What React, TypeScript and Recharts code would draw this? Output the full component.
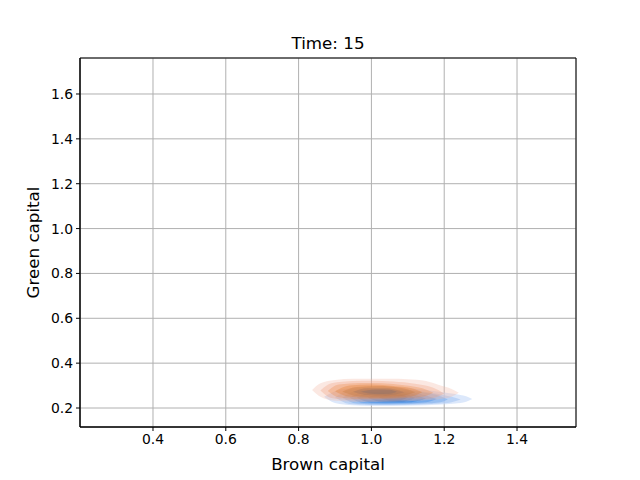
import React from 'react';
import { ComposedChart, Area, XAxis, YAxis, CartesianGrid, ReferenceArea } from 'recharts';

// Tick values
const xTicks = [0.4, 0.6, 0.8, 1.0, 1.2, 1.4];
const yTicks = [0.2, 0.4, 0.6, 0.8, 1.0, 1.2, 1.4, 1.6];
const xDomain = [0.1995, 1.562];
const yDomain = [0.1153, 1.7605];

// KDE contour levels: [brown capital, green low, green high]
const blueContours: number[][][] = [
  [[0.87, 0.25, 0.25], [0.9, 0.222, 0.275], [0.95, 0.212, 0.29], [1.0, 0.209, 0.296], [1.06, 0.209, 0.294], [1.12, 0.211, 0.286], [1.18, 0.214, 0.274], [1.23, 0.22, 0.262], [1.26, 0.228, 0.252], [1.277, 0.24, 0.24]],
  [[0.9, 0.248, 0.248], [0.94, 0.218, 0.28], [1.0, 0.213, 0.29], [1.06, 0.213, 0.288], [1.12, 0.215, 0.278], [1.18, 0.219, 0.264], [1.22, 0.226, 0.25], [1.245, 0.238, 0.238]],
  [[0.92, 0.246, 0.246], [0.96, 0.22, 0.278], [1.02, 0.216, 0.285], [1.08, 0.217, 0.282], [1.14, 0.22, 0.27], [1.19, 0.226, 0.252], [1.21, 0.238, 0.238]],
  [[0.94, 0.246, 0.246], [0.98, 0.222, 0.274], [1.04, 0.219, 0.28], [1.1, 0.221, 0.274], [1.15, 0.226, 0.256], [1.18, 0.24, 0.24]],
  [[0.96, 0.246, 0.246], [1.0, 0.225, 0.27], [1.06, 0.223, 0.274], [1.11, 0.226, 0.264], [1.15, 0.242, 0.242]],
  [[0.99, 0.246, 0.246], [1.03, 0.228, 0.266], [1.08, 0.228, 0.266], [1.12, 0.245, 0.245]],
  [[1.02, 0.248, 0.248], [1.05, 0.234, 0.26], [1.08, 0.235, 0.26], [1.1, 0.248, 0.248]],
];

const orangeContours: number[][][] = [
  [[0.837, 0.28, 0.28], [0.86, 0.25, 0.31], [0.9, 0.232, 0.325], [0.95, 0.228, 0.33], [1.0, 0.227, 0.33], [1.05, 0.228, 0.33], [1.1, 0.23, 0.328], [1.15, 0.235, 0.32], [1.19, 0.24, 0.3], [1.22, 0.25, 0.285], [1.24, 0.268, 0.268]],
  [[0.86, 0.278, 0.278], [0.89, 0.245, 0.31], [0.95, 0.235, 0.32], [1.0, 0.233, 0.322], [1.06, 0.234, 0.318], [1.12, 0.238, 0.308], [1.17, 0.245, 0.29], [1.2, 0.265, 0.265]],
  [[0.88, 0.276, 0.276], [0.91, 0.248, 0.305], [0.97, 0.24, 0.312], [1.03, 0.24, 0.31], [1.09, 0.243, 0.302], [1.14, 0.25, 0.288], [1.17, 0.268, 0.268]],
  [[0.9, 0.275, 0.275], [0.94, 0.25, 0.3], [1.0, 0.245, 0.305], [1.06, 0.246, 0.298], [1.11, 0.252, 0.288], [1.14, 0.27, 0.27]],
  [[0.92, 0.274, 0.274], [0.96, 0.254, 0.294], [1.02, 0.25, 0.298], [1.08, 0.253, 0.29], [1.12, 0.27, 0.27]],
  [[0.95, 0.273, 0.273], [0.99, 0.258, 0.288], [1.04, 0.256, 0.288], [1.09, 0.27, 0.27]],
  [[0.97, 0.272, 0.272], [1.01, 0.262, 0.283], [1.05, 0.263, 0.281], [1.07, 0.272, 0.272]],
];

const blueColors = ['#c4d9f8', '#a6c7f4', '#84b2ef', '#5f9cea', '#3f88e0', '#2a76d2', '#1f64b8'];
const orangeColors = ['#f2b8a4', '#ef9f7c', '#ec8c4c', '#e47c2c', '#c8783c', '#9a7060', '#7a6a70'];

const toData = (c: number[][]) => c.map(([x, lo, hi]) => ({ x, r: [lo, hi] }));

const font = 'DejaVu Sans, sans-serif';

export default function App() {
  return (
    <div style={{ position: 'absolute', left: 0, top: 0, width: 640, height: 480, background: '#fff', fontFamily: font }}>
      <div style={{ position: 'absolute', left: 80, width: 496, top: 33, textAlign: 'center', fontSize: 16.7, lineHeight: '20px', color: '#000' }}>
        Time: 15
      </div>
      <ComposedChart width={640} height={480} margin={{ top: 58, right: 64, bottom: 0, left: 0 }}>
        <CartesianGrid stroke="#b0b0b0" strokeWidth={1} />
        <XAxis
          dataKey="x"
          type="number"
          domain={xDomain}
          ticks={xTicks}
          allowDataOverflow
          height={53}
          tickSize={4}
          tickMargin={3}
          stroke="#000"
          tick={{ fill: '#000', fontSize: 13.9, fontFamily: font }}
          tickFormatter={(v: number) => v.toFixed(1)}
          label={{ value: 'Brown capital', position: 'insideBottom', offset: 10, fill: '#000', fontSize: 16.7, fontFamily: font }}
        />
        <YAxis
          type="number"
          domain={yDomain}
          ticks={yTicks}
          allowDataOverflow
          width={80}
          tickSize={4}
          tickMargin={3}
          stroke="#000"
          tick={{ fill: '#000', fontSize: 13.9, fontFamily: font }}
          tickFormatter={(v: number) => v.toFixed(1)}
          label={{ value: 'Green capital', angle: -90, position: 'insideLeft', offset: 33, fill: '#000', fontSize: 16.7, fontFamily: font, style: { textAnchor: 'middle' } }}
        />
        {blueContours.map((c, i) => (
          <Area
            key={'b' + i}
            data={toData(c)}
            dataKey="r"
            type="monotone"
            stroke="none"
            fill={blueColors[i]}
            fillOpacity={0.6}
            isAnimationActive={false}
            dot={false}
            activeDot={false}
          />
        ))}
        {orangeContours.map((c, i) => (
          <Area
            key={'o' + i}
            data={toData(c)}
            dataKey="r"
            type="monotone"
            stroke="none"
            fill={orangeColors[i]}
            fillOpacity={0.32}
            isAnimationActive={false}
            dot={false}
            activeDot={false}
          />
        ))}
        <ReferenceArea
          x1={xDomain[0]}
          x2={xDomain[1]}
          y1={yDomain[0]}
          y2={yDomain[1]}
          fill="none"
          stroke="#000"
          strokeWidth={1}
          ifOverflow="visible"
        />
      </ComposedChart>
    </div>
  );
}
